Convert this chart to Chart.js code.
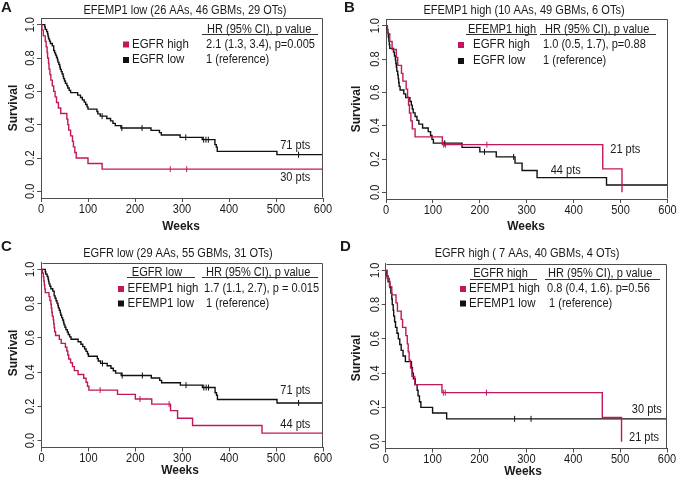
<!DOCTYPE html>
<html><head><meta charset="utf-8">
<script src="https://cdn.jsdelivr.net/npm/chart.js@4.4.1/dist/chart.umd.min.js"></script>
<style>
html,body{margin:0;padding:0;background:#fff;width:677px;height:481px;overflow:hidden}
canvas{position:absolute;display:block}
</style></head><body>
<canvas id="cA" width="338" height="240" style="left:0;top:0"></canvas>
<canvas id="cB" width="339" height="240" style="left:338px;top:0"></canvas>
<canvas id="cC" width="338" height="241" style="left:0;top:240px"></canvas>
<canvas id="cD" width="339" height="241" style="left:338px;top:240px"></canvas>
<script>
// ---------- DATA ----------
const weekTicks = [0, 100, 200, 300, 400, 500, 600];
const survTicks = [0, 0.2, 0.4, 0.6, 0.8, 1.0];

// EFEMP1 low & EGFR low (71 pts)
const lowLowWeeks = [0, 8, 9, 12, 14, 15, 16, 18, 20, 24, 27, 29, 31, 33, 35, 36, 38, 40, 41, 43, 45, 47, 48, 50, 52, 55, 57, 60, 63, 78, 84, 88, 92, 95, 98, 100, 119, 121, 126, 140, 148, 153, 158, 170, 234, 252, 256, 296, 343, 370, 373, 375, 502, 600];
const lowLowSurv  = [1, .986, .972, .958, .944, .93, .915, .901, .887, .873, .845, .831, .817, .803, .789, .775, .761, .746, .732, .718, .704, .69, .676, .662, .648, .634, .62, .606, .592, .577, .563, .549, .535, .521, .507, .493, .479, .465, .451, .437, .423, .408, .394, .38, .366, .352, .338, .324, .31, .28, .265, .24, .22, .22];
const lowLowCensWeeks = [130, 172, 215, 308, 346, 351, 356, 548];
const lowLowCensSurv  = [.451, .38, .38, .324, .31, .31, .31, .22];

// EFEMP1 low & EGFR high (30 pts)
const lowHighWeeks = [0, 2, 5, 9, 11, 13, 14, 16, 17, 19, 21, 24, 27, 30, 33, 37, 42, 55, 57, 59, 63, 67, 69, 72, 75, 100, 130, 600];
const lowHighSurv  = [1, .967, .933, .9, .867, .833, .8, .767, .733, .7, .667, .633, .6, .567, .533, .5, .467, .433, .4, .367, .333, .3, .267, .233, .2, .167, .133, .133];
const lowHighCensWeeks = [275, 310];
const lowHighCensSurv  = [.133, .133];

// EFEMP1 high & EGFR low (44 pts)
const highLowWeeks = [0, 2, 4, 5, 6, 7, 8, 16, 18, 20, 21, 22, 23, 25, 26, 27, 28, 30, 38, 42, 51, 54, 56, 58, 62, 66, 70, 78, 90, 95, 98, 101, 162, 200, 235, 275, 290, 322, 470, 600];
const highLowSurv  = [1, .977, .955, .932, .909, .886, .864, .841, .818, .795, .773, .75, .727, .705, .682, .659, .636, .614, .591, .568, .545, .523, .5, .477, .455, .432, .409, .386, .364, .341, .318, .295, .27, .243, .213, .175, .131, .088, .044, .044];
const highLowCensWeeks = [125, 210, 272];
const highLowCensSurv  = [.295, .243, .213];

// EFEMP1 high & EGFR high (21 pts)
const highHighWeeks = [0, 3, 8, 13, 22, 25, 33, 36, 43, 46, 48, 50, 53, 56, 62, 120, 462, 503];
const highHighSurv  = [1, .952, .905, .857, .81, .762, .714, .667, .619, .571, .524, .476, .429, .381, .333, .286, .141, 0];
const highHighCensWeeks = [123, 127, 215];
const highHighCensSurv  = [.286, .286, .286];

// ---------- STYLE ----------
const RED = '#C2185B', BLK = '#111111', AX = '#4d4d4d', TXT = '#1a1a1a';
const FF = 'Liberation Sans, Arial, sans-serif';
const SX = 0.92; // horizontal text compression seen in the reference
Chart.defaults.font.family = FF;

const pts = (w, s) => w.map((v, i) => ({x: v, y: s[i]}));

function curve(w, s, color) {
  return {type: 'line', data: pts(w, s), borderColor: color, backgroundColor: color, borderWidth: 1.4,
          stepped: 'before', pointRadius: 0, fill: false, tension: 0};
}
function cens(w, s, color) {
  return {type: 'scatter', data: pts(w, s), borderColor: color, backgroundColor: color, borderWidth: 1,
          pointStyle: 'line', rotation: 90, pointRadius: 3, showLine: false};
}

function txt(ctx, s, x, y, size, bold, align, rot) {
  ctx.save();
  ctx.translate(x, y);
  if (rot) ctx.rotate(rot);
  ctx.scale(SX, 1);
  ctx.font = (bold ? 'bold ' : '') + size + 'px ' + FF;
  ctx.textAlign = align; ctx.textBaseline = 'middle';
  ctx.fillStyle = TXT;
  ctx.fillText(s, 0, 0);
  ctx.restore();
}

const annot = {
  id: 'annot',
  afterDraw(chart, args, o) {
    const ctx = chart.ctx, a = chart.chartArea, ys = chart.scales.y, xs = chart.scales.x;
    ctx.save();
    // frame top/right
    ctx.strokeStyle = AX; ctx.lineWidth = 1;
    ctx.beginPath();
    const L = Math.round(a.left) + 0.5, R = Math.round(a.right) - 0.5, T = Math.round(a.top) + 0.5, B = Math.round(a.bottom) - 0.5;
    ctx.moveTo(L, T); ctx.lineTo(R, T); ctx.lineTo(R, B);
    ctx.stroke();
    // y tick labels (rotated)
    survTicks.forEach(v => txt(ctx, v.toFixed(1), a.left - 10.5, ys.getPixelForValue(v), 12, false, 'center', -Math.PI / 2));
    // x tick labels
    weekTicks.forEach(v => txt(ctx, String(v), xs.getPixelForValue(v), a.bottom + 11.5, 12, false, 'center'));
    // title + letter
    txt(ctx, o.title, o.tx, o.ty, 12, false, 'center');
    ctx.save(); ctx.font = 'bold 15px ' + FF; ctx.textAlign = 'left'; ctx.textBaseline = 'middle'; ctx.fillStyle = TXT;
    ctx.fillText(o.letter, o.lx, o.ly); ctx.restore();
    // axis titles
    txt(ctx, 'Weeks', o.wx, o.wy, 13, true, 'center');
    txt(ctx, 'Survival', o.sx, o.sy, 13, true, 'center', -Math.PI / 2);
    // legend
    ctx.strokeStyle = '#333'; ctx.lineWidth = 1;
    if (o.group) {
      txt(ctx, o.group, o.gx, o.hy, 12, false, 'center');
      ctx.beginPath(); ctx.moveTo(o.g1, o.uy + 0.5); ctx.lineTo(o.g2, o.uy + 0.5); ctx.stroke();
    }
    txt(ctx, 'HR (95% CI), p value', o.hx, o.hy, 12, false, 'left');
    ctx.beginPath(); ctx.moveTo(o.h1, o.uy + 0.5); ctx.lineTo(o.h2, o.uy + 0.5); ctx.stroke();
    o.rows.forEach(r => {
      ctx.fillStyle = r.c; ctx.fillRect(o.sqx, r.y - 3, 6, 6);
      txt(ctx, r.lab, o.labx, r.y, 12.5, false, 'left');
      txt(ctx, r.val, r.vx, r.y, 12, false, 'left');
    });
    // pts labels in data coordinates
    o.pts.forEach(p => txt(ctx, p.t, xs.getPixelForValue(p.w), ys.getPixelForValue(p.s), 12, false, 'center'));
    ctx.restore();
  }
};

function panel(id, g, datasets, ann) {
  const cv = document.getElementById(id), W = cv.width, H = cv.height;
  new Chart(cv, {
    data: {datasets},
    options: {
      responsive: false, animation: false, events: [],
      layout: {padding: {left: 0, top: g.top, right: W - g.right, bottom: 0}},
      plugins: {legend: {display: false}, tooltip: {enabled: false}, title: {display: false}, annot: ann},
      scales: {
        x: {type: 'linear', min: 0, max: 600,
            afterBuildTicks: s => { s.ticks = weekTicks.map(v => ({value: v})); },
            afterFit: s => { s.height = H - g.bottom; },
            grid: {drawOnChartArea: false, drawTicks: true, tickLength: 4, color: AX, lineWidth: 1},
            border: {display: true, color: AX, width: 1},
            ticks: {display: false}},
        y: {type: 'linear', min: -0.04, max: 1.04,
            afterBuildTicks: s => { s.ticks = survTicks.map(v => ({value: v})); },
            afterFit: s => { s.width = g.left; },
            grid: {drawOnChartArea: false, drawTicks: true, tickLength: 4, color: AX, lineWidth: 1},
            border: {display: true, color: AX, width: 1},
            ticks: {display: false}}
      }
    },
    plugins: [annot]
  });
}

// Panel A
panel('cA', {left: 41, top: 18, right: 323, bottom: 198}, [
  curve(lowHighWeeks, lowHighSurv, RED), cens(lowHighCensWeeks, lowHighCensSurv, RED),
  curve(lowLowWeeks, lowLowSurv, BLK), cens(lowLowCensWeeks, lowLowCensSurv, BLK)
], {title: 'EFEMP1 low (26 AAs, 46 GBMs, 29 OTs)', tx: 185, ty: 11, letter: 'A', lx: 1, ly: 8,
    wx: 181, wy: 226, sx: 13, sy: 108, group: null, hx: 207, hy: 29.5, h1: 202, h2: 318, uy: 34,
    sqx: 123, labx: 132,
    rows: [{c: RED, lab: 'EGFR high', val: '2.1 (1.3, 3.4), p=0.005', vx: 206, y: 44.5},
           {c: BLK, lab: 'EGFR low', val: '1 (reference)', vx: 206, y: 60}],
    pts: [{t: '71 pts', w: 541, s: 0.275}, {t: '30 pts', w: 541, s: 0.08}]});

// Panel B
panel('cB', {left: 48, top: 19, right: 329.5, bottom: 199}, [
  curve(highHighWeeks, highHighSurv, RED), cens(highHighCensWeeks, highHighCensSurv, RED),
  curve(highLowWeeks, highLowSurv, BLK), cens(highLowCensWeeks, highLowCensSurv, BLK)
], {title: 'EFEMP1 high (10 AAs, 49 GBMs, 6 OTs)', tx: 186, ty: 11, letter: 'B', lx: 6, ly: 8,
    wx: 188, wy: 226, sx: 18, sy: 109, group: 'EFEMP1 high', gx: 164, g1: 128, g2: 199,
    hx: 207, hy: 29.5, h1: 202, h2: 318, uy: 34,
    sqx: 120, labx: 135,
    rows: [{c: RED, lab: 'EGFR high', val: '1.0 (0.5, 1.7), p=0.88', vx: 205, y: 45},
           {c: BLK, lab: 'EGFR low', val: '1 (reference)', vx: 205, y: 61}],
    pts: [{t: '21 pts', w: 510, s: 0.254}, {t: '44 pts', w: 383, s: 0.13}]});

// Panel C
panel('cC', {left: 41.5, top: 22.5, right: 323, bottom: 207.5}, [
  curve(highLowWeeks, highLowSurv, RED), cens(highLowCensWeeks, highLowCensSurv, RED),
  curve(lowLowWeeks, lowLowSurv, BLK), cens(lowLowCensWeeks, lowLowCensSurv, BLK)
], {title: 'EGFR low (29 AAs, 55 GBMs, 31 OTs)', tx: 178, ty: 13.5, letter: 'C', lx: 1, ly: 7,
    wx: 180, wy: 230, sx: 13, sy: 113, group: 'EGFR low', gx: 157, g1: 127, g2: 195,
    hx: 206, hy: 32.5, h1: 202, h2: 318, uy: 37,
    sqx: 118, labx: 127.5,
    rows: [{c: RED, lab: 'EFEMP1 high', val: '1.7 (1.1, 2.7), p = 0.015', vx: 204, y: 49},
           {c: BLK, lab: 'EFEMP1 low', val: '1 (reference)', vx: 206, y: 63.5}],
    pts: [{t: '71 pts', w: 541, s: 0.291}, {t: '44 pts', w: 541, s: 0.091}]});

// Panel D
panel('cD', {left: 47.7, top: 23.5, right: 329, bottom: 208.5}, [
  curve(highHighWeeks, highHighSurv, RED), cens(highHighCensWeeks, highHighCensSurv, RED),
  curve(lowHighWeeks, lowHighSurv, BLK), cens(lowHighCensWeeks, lowHighCensSurv, BLK)
], {title: 'EGFR high ( 7 AAs, 40 GBMs, 4 OTs)', tx: 189, ty: 13.5, letter: 'D', lx: 2, ly: 7,
    wx: 185, wy: 231, sx: 18, sy: 118, group: 'EGFR high', gx: 162.5, g1: 132, g2: 199,
    hx: 210, hy: 33.5, h1: 207, h2: 322, uy: 39,
    sqx: 122, labx: 131,
    rows: [{c: RED, lab: 'EFEMP1 high', val: '0.8 (0.4, 1.6). p=0.56', vx: 209, y: 49},
           {c: BLK, lab: 'EFEMP1 low', val: '1 (reference)', vx: 211, y: 63.5}],
    pts: [{t: '30 pts', w: 557, s: 0.184}, {t: '21 pts', w: 551, s: 0.026}]});
</script></body></html>
